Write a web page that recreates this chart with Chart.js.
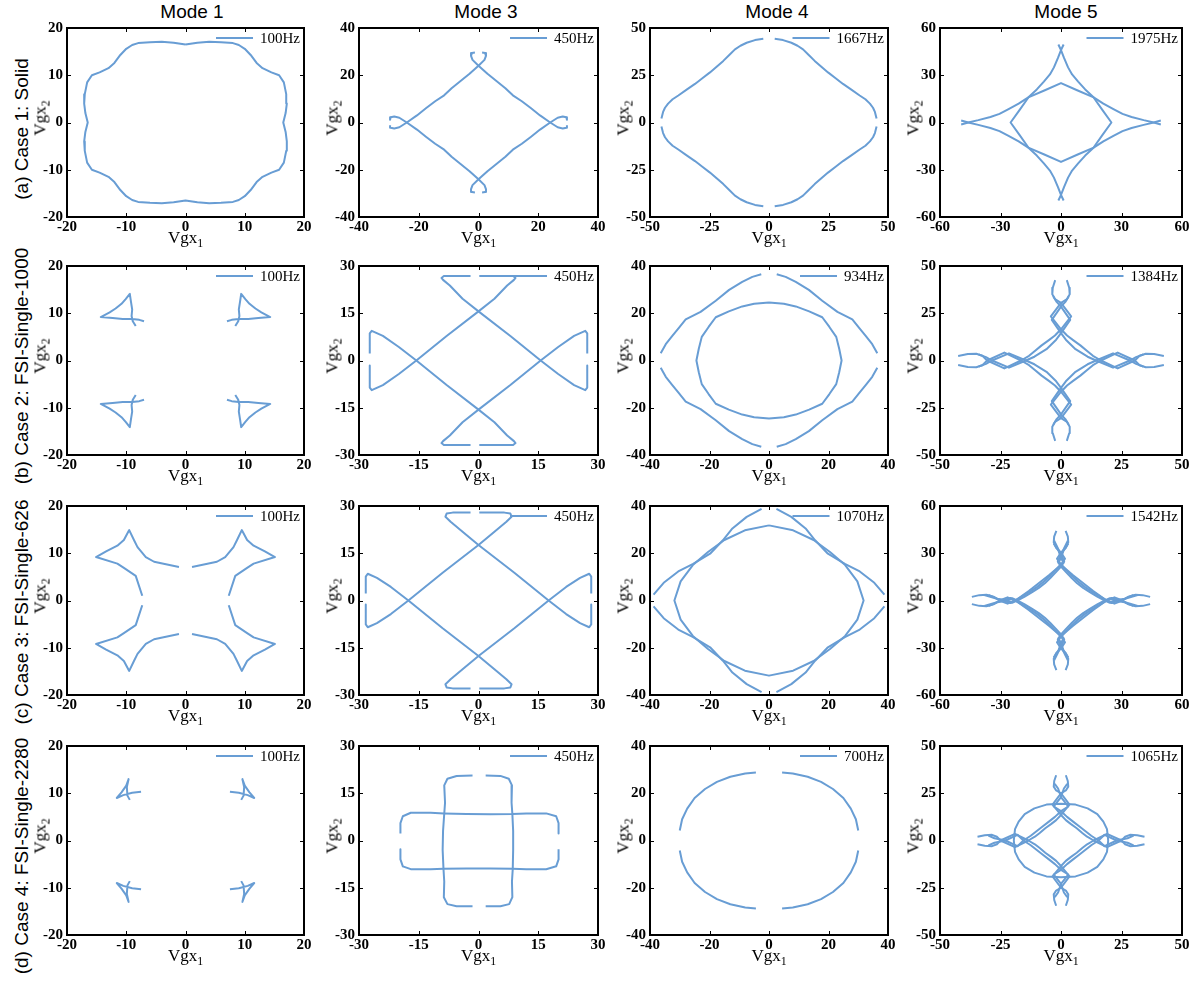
<!DOCTYPE html>
<html>
<head>
<title>Group velocity curves</title>
<script src="https://cdn.jsdelivr.net/npm/chart.js"></script>
<style>
  body { margin: 0; background: #fff; }
  #page { position: relative; width: 1199px; height: 986px; overflow: hidden; }
  #page canvas { position: absolute; }
  .mode { position: absolute; font: 19px "Liberation Sans", Arial, sans-serif; line-height: 19px; transform: translateX(-50%); white-space: nowrap; }
  .case { position: absolute; font: 19px "Liberation Sans", Arial, sans-serif; line-height: 19px; transform: translate(-50%, -50%) rotate(-90deg); white-space: nowrap; }
  .xt, .yt { position: absolute; font: 17px "Liberation Serif", serif; line-height: 17px; white-space: nowrap; }
  .xt { transform: translateX(-50%); }
  .yt { transform: translate(-50%, -50%) rotate(-90deg); }
  .xt sub, .yt sub { font-size: 70%; vertical-align: -0.3em; line-height: 0; }
</style>
</head>
<body>
<div id="page"></div>
<script>
const modeTitles = ["Mode 1", "Mode 3", "Mode 4", "Mode 5"];
const caseLabels = ["(a) Case 1: Solid", "(b) Case 2: FSI-Single-1000", "(c) Case 3: FSI-Single-626", "(d) Case 4: FSI-Single-2280"];
const freqLabels = [
  ["100Hz", "450Hz", "1667Hz", "1975Hz"],
  ["100Hz", "450Hz", "934Hz", "1384Hz"],
  ["100Hz", "450Hz", "1070Hz", "1542Hz"],
  ["100Hz", "450Hz", "700Hz", "1065Hz"]
];
const axisLimits = [[20, 40, 50, 60], [20, 30, 40, 50], [20, 30, 40, 60], [20, 30, 40, 50]];
const tickSteps = [[10, 20, 25, 30], [10, 15, 20, 25], [10, 15, 20, 30], [10, 15, 20, 25]];

// each curve = list of line pieces, each piece = list of [Vgx1, Vgx2]
const solidMode1 = [
  [[0,16.5],[-2,16.9],[-4,17.1],[-6,17],[-8,16.8],[-9,16.4],[-10,15.6],[-11,14.3],[-12,12.6],[-13,11.5],[-14.5,10.6],[-15.8,10],[-16.6,8.5],[-17,6],[-17.1,4],[-16.9,2],[-16.5,0],[-16.9,-2],[-17.1,-4],[-17,-6],[-16.6,-8.5],[-15.8,-10],[-14.5,-10.6],[-13,-11.5],[-12,-12.6],[-11,-14.3],[-10,-15.6],[-9,-16.4],[-8,-16.8],[-6,-17],[-4,-17.1],[-2,-16.9],[0,-16.5],[2,-16.9],[4,-17.1],[6,-17],[8,-16.8],[9,-16.4],[10,-15.6],[11,-14.3],[12,-12.6],[13,-11.5],[14.5,-10.6],[15.8,-10],[16.6,-8.5],[17,-6],[17.1,-4],[16.9,-2],[16.5,0],[16.9,2],[17.1,4],[17,6],[16.6,8.5],[15.8,10],[14.5,10.6],[13,11.5],[12,12.6],[11,14.3],[10,15.6],[9,16.4],[8,16.8],[6,17],[4,17.1],[2,16.9],[0,16.5]]
];
const solidMode3 = [
  [[-1.2,29.6],[-2.2,29.4],[-2.5,28.2],[-2,26.5],[0,24],[3,20.6],[6,17.6],[9,14.5],[11.5,11.5],[14.5,9],[17.6,6],[20.6,3],[24,0],[26.5,-2],[28.2,-2.5],[29.4,-2.2],[29.6,-1.2]],
  [[1.2,29.6],[2.2,29.4],[2.5,28.2],[2,26.5],[0,24],[-3,20.6],[-6,17.6],[-9,14.5],[-11.5,11.5],[-14.5,9],[-17.6,6],[-20.6,3],[-24,0],[-26.5,-2],[-28.2,-2.5],[-29.4,-2.2],[-29.6,-1.2]],
  [[-1.2,-29.6],[-2.2,-29.4],[-2.5,-28.2],[-2,-26.5],[0,-24],[3,-20.6],[6,-17.6],[9,-14.5],[11.5,-11.5],[14.5,-9],[17.6,-6],[20.6,-3],[24,0],[26.5,2],[28.2,2.5],[29.4,2.2],[29.6,1.2]],
  [[1.2,-29.6],[2.2,-29.4],[2.5,-28.2],[2,-26.5],[0,-24],[-3,-20.6],[-6,-17.6],[-9,-14.5],[-11.5,-11.5],[-14.5,-9],[-17.6,-6],[-20.6,-3],[-24,0],[-26.5,2],[-28.2,2.5],[-29.4,2.2],[-29.6,1.2]]
];
const solidMode4 = [
  [[-2.4,44.3],[-5.9,43.6],[-9.4,42.2],[-12,40.6],[-14.3,38.7],[-16.8,35.6],[-19.2,32.6],[-22,29.5],[-24.8,26.5],[-28,23.4],[-31.1,20.4],[-34.6,17.4],[-38.1,14.3],[-40.5,12.3],[-42.4,10],[-43.7,7.8],[-44.5,5.6],[-45.2,2.1]],
  [[2.4,44.3],[5.9,43.6],[9.4,42.2],[12,40.6],[14.3,38.7],[16.8,35.6],[19.2,32.6],[22,29.5],[24.8,26.5],[28,23.4],[31.1,20.4],[34.6,17.4],[38.1,14.3],[40.5,12.3],[42.4,10],[43.7,7.8],[44.5,5.6],[45.2,2.1]],
  [[-2.4,-44.3],[-5.9,-43.6],[-9.4,-42.2],[-12,-40.6],[-14.3,-38.7],[-16.8,-35.6],[-19.2,-32.6],[-22,-29.5],[-24.8,-26.5],[-28,-23.4],[-31.1,-20.4],[-34.6,-17.4],[-38.1,-14.3],[-40.5,-12.3],[-42.4,-10],[-43.7,-7.8],[-44.5,-5.6],[-45.2,-2.1]],
  [[2.4,-44.3],[5.9,-43.6],[9.4,-42.2],[12,-40.6],[14.3,-38.7],[16.8,-35.6],[19.2,-32.6],[22,-29.5],[24.8,-26.5],[28,-23.4],[31.1,-20.4],[34.6,-17.4],[38.1,-14.3],[40.5,-12.3],[42.4,-10],[43.7,-7.8],[44.5,-5.6],[45.2,-2.1]]
];
const solidMode5 = [
  [[1.3,49.5],[0,46],[-1.5,41],[-3.5,35],[-5.5,30.5],[-8.5,26],[-12,21],[-16,16.2],[-20.5,8],[-25,0],[-20.5,-8],[-16,-16.2],[-12,-21],[-8.5,-26],[-5.5,-30.5],[-3.5,-35],[-1.5,-41],[0,-46],[1.3,-49.5]],
  [[-1.3,49.5],[0,46],[1.5,41],[3.5,35],[5.5,30.5],[8.5,26],[12,21],[16,16.2],[20.5,8],[25,0],[20.5,-8],[16,-16.2],[12,-21],[8.5,-26],[5.5,-30.5],[3.5,-35],[1.5,-41],[0,-46],[-1.3,-49.5]],
  [[-49.5,-1.3],[-46,0],[-41,1.5],[-35,3.5],[-30.5,5.5],[-26,8.5],[-21,12],[-16.2,16],[-8,20.5],[0,25],[8,20.5],[16.2,16],[21,12],[26,8.5],[30.5,5.5],[35,3.5],[41,1.5],[46,0],[49.5,-1.3]],
  [[-49.5,1.3],[-46,0],[-41,-1.5],[-35,-3.5],[-30.5,-5.5],[-26,-8.5],[-21,-12],[-16.2,-16],[-8,-20.5],[0,-25],[8,-20.5],[16.2,-16],[21,-12],[26,-8.5],[30.5,-5.5],[35,-3.5],[41,-1.5],[46,0],[49.5,1.3]]
];

const fsi1000Mode1 = [
  [[-8.4,7.3],[-8.9,8.3],[-9.1,9.4],[-9,10.8],[-9.2,12.4],[-9.4,14.1],[-10.1,13],[-10.8,12],[-11.8,11],[-12.8,10.2],[-14.3,9.2],[-12.3,9],[-10.6,8.8],[-9,8.8],[-7.8,8.6],[-7,8.3]],
  [[8.4,7.3],[8.9,8.3],[9.1,9.4],[9,10.8],[9.2,12.4],[9.4,14.1],[10.1,13],[10.8,12],[11.8,11],[12.8,10.2],[14.3,9.2],[12.3,9],[10.6,8.8],[9,8.8],[7.8,8.6],[7,8.3]],
  [[-8.4,-7.3],[-8.9,-8.3],[-9.1,-9.4],[-9,-10.8],[-9.2,-12.4],[-9.4,-14.1],[-10.1,-13],[-10.8,-12],[-11.8,-11],[-12.8,-10.2],[-14.3,-9.2],[-12.3,-9],[-10.6,-8.8],[-9,-8.8],[-7.8,-8.6],[-7,-8.3]],
  [[8.4,-7.3],[8.9,-8.3],[9.1,-9.4],[9,-10.8],[9.2,-12.4],[9.4,-14.1],[10.1,-13],[10.8,-12],[11.8,-11],[12.8,-10.2],[14.3,-9.2],[12.3,-9],[10.6,-8.8],[9,-8.8],[7.8,-8.6],[7,-8.3]]
];
const fsi1000Mode3 = [
  [[-27.3,-1.6],[-27.3,-8.6],[-26.8,-9.4],[-24,-7.8],[-20,-4.3],[-15.6,0],[-8,7.8],[0,15.6],[4,19.6],[7.2,23.8],[8.9,25.6],[9.3,26.2],[8.7,26.8],[0.2,26.8]],
  [[-27.3,2.2],[-27.3,8.6],[-26.8,9.4],[-24,7.8],[-20,4.3],[-15.6,0],[-8,-7.8],[0,-15.6],[4,-19.6],[7.2,-23.8],[8.9,-25.6],[9.3,-26.2],[8.7,-26.8],[0.2,-26.8]],
  [[27.3,-1.6],[27.3,-8.6],[26.8,-9.4],[24,-7.8],[20,-4.3],[15.6,0],[8,7.8],[0,15.6],[-4,19.6],[-7.2,23.8],[-8.9,25.6],[-9.3,26.2],[-8.7,26.8],[-2,26.8]],
  [[27.3,2.2],[27.3,8.6],[26.8,9.4],[24,7.8],[20,4.3],[15.6,0],[8,-7.8],[0,-15.6],[-4,-19.6],[-7.2,-23.8],[-8.9,-25.6],[-9.3,-26.2],[-8.7,-26.8],[-2,-26.8]]
];
const fsi1000Mode4 = [
  [[-2.6,36.5],[-5.6,35.4],[-9,33.3],[-13.4,29.9],[-17.9,25.3],[-23,20.6],[-28,17.4],[-30.5,13.5],[-32.5,10.4],[-34.7,6.9],[-36.4,3.1]],
  [[2.6,36.5],[5.6,35.4],[9,33.3],[13.4,29.9],[17.9,25.3],[23,20.6],[28,17.4],[30.5,13.5],[32.5,10.4],[34.7,6.9],[36.4,3.1]],
  [[-2.6,-36.5],[-5.6,-35.4],[-9,-33.3],[-13.4,-29.9],[-17.9,-25.3],[-23,-20.6],[-28,-17.4],[-30.5,-13.5],[-32.5,-10.4],[-34.7,-6.9],[-36.4,-3.1]],
  [[2.6,-36.5],[5.6,-35.4],[9,-33.3],[13.4,-29.9],[17.9,-25.3],[23,-20.6],[28,-17.4],[30.5,-13.5],[32.5,-10.4],[34.7,-6.9],[36.4,-3.1]],
  [[0,24.6],[-5,24],[-9,22.9],[-13.5,20.8],[-17.9,18.3],[-20.3,14.2],[-22.6,10],[-23.6,5],[-24.4,0],[-23.6,-5],[-22.6,-10],[-20.3,-14.2],[-17.9,-18.3],[-13.5,-20.8],[-9,-22.9],[-5,-24],[0,-24.6],[5,-24],[9,-22.9],[13.5,-20.8],[17.9,-18.3],[20.3,-14.2],[22.6,-10],[23.6,-5],[24.4,0],[23.6,5],[22.6,10],[20.3,14.2],[17.9,18.3],[13.5,20.8],[9,22.9],[5,24],[0,24.6]]
];
const fsi1000Mode5 = [
  [[-2.4,42.5],[-3.4,38.5],[-3.6,35],[-2.5,32.5],[0,30.5],[4.2,23.4],[0,16.5],[-2.5,13.2],[-5,10.8],[-8,8],[-10.8,5],[-13.2,2.5],[-16.5,0],[-23.4,-4.2],[-30.5,0],[-32.5,2.5],[-35,3.6],[-38.5,3.4],[-42.5,2.4]],
  [[2.4,42.5],[3.4,38.5],[3.6,35],[2.5,32.5],[0,30.5],[-4.2,23.4],[0,16.5],[2.5,13.2],[5,10.8],[8,8],[10.8,5],[13.2,2.5],[16.5,0],[23.4,-4.2],[30.5,0],[32.5,2.5],[35,3.6],[38.5,3.4],[42.5,2.4]],
  [[-2.4,-42.5],[-3.4,-38.5],[-3.6,-35],[-2.5,-32.5],[0,-30.5],[4.2,-23.4],[0,-16.5],[-2.5,-13.2],[-5,-10.8],[-8,-8],[-10.8,-5],[-13.2,-2.5],[-16.5,0],[-23.4,4.2],[-30.5,0],[-32.5,-2.5],[-35,-3.6],[-38.5,-3.4],[-42.5,-2.4]],
  [[2.4,-42.5],[3.4,-38.5],[3.6,-35],[2.5,-32.5],[0,-30.5],[-4.2,-23.4],[0,-16.5],[2.5,-13.2],[5,-10.8],[8,-8],[10.8,-5],[13.2,-2.5],[16.5,0],[23.4,4.2],[30.5,0],[32.5,-2.5],[35,-3.6],[38.5,-3.4],[42.5,-2.4]],
  [[-3.2,34],[-1.8,31],[0,28.5],[3.8,21.5],[0,14.5],[-2,11],[-4,8.5],[-6,6],[-8.5,4],[-11,2],[-14.5,0],[-21.5,-3.8],[-28.5,0],[-31,1.8],[-34,3.2]],
  [[3.2,34],[1.8,31],[0,28.5],[-3.8,21.5],[0,14.5],[2,11],[4,8.5],[6,6],[8.5,4],[11,2],[14.5,0],[21.5,-3.8],[28.5,0],[31,1.8],[34,3.2]],
  [[-3.2,-34],[-1.8,-31],[0,-28.5],[3.8,-21.5],[0,-14.5],[-2,-11],[-4,-8.5],[-6,-6],[-8.5,-4],[-11,-2],[-14.5,0],[-21.5,3.8],[-28.5,0],[-31,-1.8],[-34,-3.2]],
  [[3.2,-34],[1.8,-31],[0,-28.5],[-3.8,-21.5],[0,-14.5],[2,-11],[4,-8.5],[6,-6],[8.5,-4],[11,-2],[14.5,0],[21.5,3.8],[28.5,0],[31,-1.8],[34,-3.2]]
];

const fsi626Mode1 = [
  [[-1.1,7.1],[-5.3,8.2],[-6.7,9.2],[-8.1,11.3],[-8.7,12.8],[-9.5,14.9],[-10.4,12.8],[-11.5,11.6],[-13.4,10.4],[-15.1,9.2],[-11.5,7.8],[-10.4,6.9],[-8.4,5.2],[-7.3,1]],
  [[1.1,7.1],[5.3,8.2],[6.7,9.2],[8.1,11.3],[8.7,12.8],[9.5,14.9],[10.4,12.8],[11.5,11.6],[13.4,10.4],[15.1,9.2],[11.5,7.8],[10.4,6.9],[8.4,5.2],[7.3,1]],
  [[-1.1,-7.1],[-5.3,-8.2],[-6.7,-9.2],[-8.1,-11.3],[-8.7,-12.8],[-9.5,-14.9],[-10.4,-12.8],[-11.5,-11.6],[-13.4,-10.4],[-15.1,-9.2],[-11.5,-7.8],[-10.4,-6.9],[-8.4,-5.2],[-7.3,-1]],
  [[1.1,-7.1],[5.3,-8.2],[6.7,-9.2],[8.1,-11.3],[8.7,-12.8],[9.5,-14.9],[10.4,-12.8],[11.5,-11.6],[13.4,-10.4],[15.1,-9.2],[11.5,-7.8],[10.4,-6.9],[8.4,-5.2],[7.3,-1]]
];
const fsi626Mode3 = [
  [[-28.3,-1.3],[-28.3,-7.6],[-27.8,-8.5],[-25.5,-7.2],[-22,-4.3],[-17.6,0],[-9,8.8],[0,17.6],[4,21.8],[7,25],[8.3,26.6],[8,27.6],[6.5,27.9],[0.2,27.9]],
  [[-28.3,2.2],[-28.3,7.6],[-27.8,8.5],[-25.5,7.2],[-22,4.3],[-17.6,0],[-9,-8.8],[0,-17.6],[4,-21.8],[7,-25],[8.3,-26.6],[8,-27.6],[6.5,-27.9],[0.2,-27.9]],
  [[28.3,-1.3],[28.3,-7.6],[27.8,-8.5],[25.5,-7.2],[22,-4.3],[17.6,0],[9,8.8],[0,17.6],[-4,21.8],[-7,25],[-8.3,26.6],[-8,27.6],[-6.5,27.9],[-2,27.9]],
  [[28.3,2.2],[28.3,7.6],[27.8,8.5],[25.5,7.2],[22,4.3],[17.6,0],[9,-8.8],[0,-17.6],[-4,-21.8],[-7,-25],[-8.3,-26.6],[-8,-27.6],[-6.5,-27.9],[-2,-27.9]]
];
const fsi626Mode4 = [
  [[-2.5,38.8],[-7.5,35.4],[-12.3,30.5],[-15.5,25.5],[-19.8,19.8],[-25.5,15.5],[-30.5,12.3],[-35.4,7.5],[-38.8,2.5]],
  [[2.5,38.8],[7.5,35.4],[12.3,30.5],[15.5,25.5],[19.8,19.8],[25.5,15.5],[30.5,12.3],[35.4,7.5],[38.8,2.5]],
  [[-2.5,-38.8],[-7.5,-35.4],[-12.3,-30.5],[-15.5,-25.5],[-19.8,-19.8],[-25.5,-15.5],[-30.5,-12.3],[-35.4,-7.5],[-38.8,-2.5]],
  [[2.5,-38.8],[7.5,-35.4],[12.3,-30.5],[15.5,-25.5],[19.8,-19.8],[25.5,-15.5],[30.5,-12.3],[35.4,-7.5],[38.8,-2.5]],
  [[0,31.8],[-8.1,29.7],[-15,25.6],[-20.5,20.5],[-25.6,15],[-29.7,8.1],[-31.8,0],[-29.7,-8.1],[-25.6,-15],[-20.5,-20.5],[-15,-25.6],[-8.1,-29.7],[0,-31.8],[8.1,-29.7],[15,-25.6],[20.5,-20.5],[25.6,-15],[29.7,-8.1],[31.8,0],[29.7,8.1],[25.6,15],[20.5,20.5],[15,25.6],[8.1,29.7],[0,31.8]]
];
const fsi626Mode5 = [
  [[-2.3,44.2],[-3.4,40.5],[-3.6,37],[-2.4,33.5],[0,30.5],[2,26.5],[0,23],[-2.5,19.5],[-5.5,15.5],[-8.5,12],[-12,8.5],[-15.5,5.5],[-19.5,2.5],[-23,0],[-26.5,-2],[-30.5,0],[-33.5,2.4],[-37,3.6],[-40.5,3.4],[-44.2,2.3]],
  [[2.3,44.2],[3.4,40.5],[3.6,37],[2.4,33.5],[0,30.5],[-2,26.5],[0,23],[2.5,19.5],[5.5,15.5],[8.5,12],[12,8.5],[15.5,5.5],[19.5,2.5],[23,0],[26.5,-2],[30.5,0],[33.5,2.4],[37,3.6],[40.5,3.4],[44.2,2.3]],
  [[-2.3,-44.2],[-3.4,-40.5],[-3.6,-37],[-2.4,-33.5],[0,-30.5],[2,-26.5],[0,-23],[-2.5,-19.5],[-5.5,-15.5],[-8.5,-12],[-12,-8.5],[-15.5,-5.5],[-19.5,-2.5],[-23,0],[-26.5,2],[-30.5,0],[-33.5,-2.4],[-37,-3.6],[-40.5,-3.4],[-44.2,-2.3]],
  [[2.3,-44.2],[3.4,-40.5],[3.6,-37],[2.4,-33.5],[0,-30.5],[-2,-26.5],[0,-23],[2.5,-19.5],[5.5,-15.5],[8.5,-12],[12,-8.5],[15.5,-5.5],[19.5,-2.5],[23,0],[26.5,2],[30.5,0],[33.5,-2.4],[37,-3.6],[40.5,-3.4],[44.2,-2.3]],
  [[-3.4,38],[-1.5,33],[0,29],[1.6,25],[0,21.5],[-2.5,18],[-5.3,14.3],[-8,11],[-11,8],[-14.3,5.3],[-18,2.5],[-21.5,0],[-25,-1.6],[-29,0],[-33,1.5],[-38,3.4]],
  [[3.4,38],[1.5,33],[0,29],[-1.6,25],[0,21.5],[2.5,18],[5.3,14.3],[8,11],[11,8],[14.3,5.3],[18,2.5],[21.5,0],[25,-1.6],[29,0],[33,1.5],[38,3.4]],
  [[-3.4,-38],[-1.5,-33],[0,-29],[1.6,-25],[0,-21.5],[-2.5,-18],[-5.3,-14.3],[-8,-11],[-11,-8],[-14.3,-5.3],[-18,-2.5],[-21.5,0],[-25,1.6],[-29,0],[-33,-1.5],[-38,-3.4]],
  [[3.4,-38],[1.5,-33],[0,-29],[-1.6,-25],[0,-21.5],[2.5,-18],[5.3,-14.3],[8,-11],[11,-8],[14.3,-5.3],[18,-2.5],[21.5,0],[25,1.6],[29,0],[33,-1.5],[38,-3.4]],
  [[-3.6,36],[-1.2,31.5],[0,27],[1.3,24],[0,22.5],[-2.8,19.5],[-6,16],[-9.5,12.5],[-12.5,9.5],[-16,6],[-19.5,2.8],[-22.5,0],[-24,-1.3],[-27,0],[-31.5,1.2],[-36,3.6]],
  [[3.6,36],[1.2,31.5],[0,27],[-1.3,24],[0,22.5],[2.8,19.5],[6,16],[9.5,12.5],[12.5,9.5],[16,6],[19.5,2.8],[22.5,0],[24,-1.3],[27,0],[31.5,1.2],[36,3.6]],
  [[-3.6,-36],[-1.2,-31.5],[0,-27],[1.3,-24],[0,-22.5],[-2.8,-19.5],[-6,-16],[-9.5,-12.5],[-12.5,-9.5],[-16,-6],[-19.5,-2.8],[-22.5,0],[-24,1.3],[-27,0],[-31.5,-1.2],[-36,-3.6]],
  [[3.6,-36],[1.2,-31.5],[0,-27],[-1.3,-24],[0,-22.5],[2.8,-19.5],[6,-16],[9.5,-12.5],[12.5,-9.5],[16,-6],[19.5,-2.8],[22.5,0],[24,1.3],[27,0],[31.5,-1.2],[36,-3.6]]
];

const fsi2280Mode1 = [
  [[-7.5,10.3],[-9,10.1],[-10.5,9.6],[-11.6,9],[-10.8,10.2],[-10,11.6],[-9.6,13],[-9.9,11.3],[-9.8,9.5],[-9.4,8.6]],
  [[7.5,10.3],[9,10.1],[10.5,9.6],[11.6,9],[10.8,10.2],[10,11.6],[9.6,13],[9.9,11.3],[9.8,9.5],[9.4,8.6]],
  [[-7.5,-10.3],[-9,-10.1],[-10.5,-9.6],[-11.6,-9],[-10.8,-10.2],[-10,-11.6],[-9.6,-13],[-9.9,-11.3],[-9.8,-9.5],[-9.4,-8.6]],
  [[7.5,-10.3],[9,-10.1],[10.5,-9.6],[11.6,-9],[10.8,-10.2],[10,-11.6],[9.6,-13],[9.9,-11.3],[9.8,-9.5],[9.4,-8.6]]
];
const fsi2280Mode3 = [
  [[-1.5,20.6],[-5.5,20.5],[-7.8,19.6],[-8.6,17.5],[-8.4,12],[-8.6,8.5],[-8.9,3],[-9,-3],[-8.8,-8.8],[-8.6,-13],[-8.7,-18],[-7.8,-20.2],[-5.5,-20.9],[-1.5,-20.9]],
  [[1.8,20.6],[5.5,20.5],[7.6,19.6],[8.4,17.5],[8.3,12],[8.5,8.4],[8.7,3],[8.7,-3],[8.6,-9],[8.4,-13],[8.5,-18],[7.7,-20.2],[5.5,-20.9],[1.8,-20.9]],
  [[-19.6,2.2],[-19.6,5.5],[-19,7.7],[-17,8.8],[-12,8.8],[-8.7,8.6],[-3,8.4],[3,8.3],[8.5,8.4],[12,8.6],[17,8.6],[19.5,7.7],[20.1,5.5],[20.1,2.2]],
  [[-19.6,-2.8],[-19.6,-6],[-19,-8.2],[-17,-9.1],[-12,-9.1],[-8.8,-9],[-3,-8.9],[3,-8.9],[8.6,-9],[12,-9.1],[17,-9.1],[19.5,-8.2],[20.1,-6],[20.1,-2.8]]
];
const fsi2280Mode4 = [
  [[-4.4,28.8],[-8,28.4],[-13,27],[-17.5,24.8],[-21.5,21.8],[-25,18],[-27.5,13.5],[-29.2,9],[-30,4.2]],
  [[4.4,28.8],[8,28.4],[13,27],[17.5,24.8],[21.5,21.8],[25,18],[27.5,13.5],[29.2,9],[30,4.2]],
  [[-4.4,-28.8],[-8,-28.4],[-13,-27],[-17.5,-24.8],[-21.5,-21.8],[-25,-18],[-27.5,-13.5],[-29.2,-9],[-30,-4.2]],
  [[4.4,-28.8],[8,-28.4],[13,-27],[17.5,-24.8],[21.5,-21.8],[25,-18],[27.5,-13.5],[29.2,-9],[30,-4.2]]
];
const fsi2280Mode5 = [
  [[-2,34.5],[-2.8,31.5],[-3,28.5],[-2,26.5],[0,25],[3.5,19],[0,13.5],[-2,10.8],[-4,8.8],[-6.5,6.5],[-8.8,4],[-10.8,2],[-13.5,0],[-19,-3.5],[-25,0],[-26.5,2],[-28.5,3],[-31.5,2.8],[-34.5,2]],
  [[2,34.5],[2.8,31.5],[3,28.5],[2,26.5],[0,25],[-3.5,19],[0,13.5],[2,10.8],[4,8.8],[6.5,6.5],[8.8,4],[10.8,2],[13.5,0],[19,-3.5],[25,0],[26.5,2],[28.5,3],[31.5,2.8],[34.5,2]],
  [[-2,-34.5],[-2.8,-31.5],[-3,-28.5],[-2,-26.5],[0,-25],[3.5,-19],[0,-13.5],[-2,-10.8],[-4,-8.8],[-6.5,-6.5],[-8.8,-4],[-10.8,-2],[-13.5,0],[-19,3.5],[-25,0],[-26.5,-2],[-28.5,-3],[-31.5,-2.8],[-34.5,-2]],
  [[2,-34.5],[2.8,-31.5],[3,-28.5],[2,-26.5],[0,-25],[-3.5,-19],[0,-13.5],[2,-10.8],[4,-8.8],[6.5,-6.5],[8.8,-4],[10.8,-2],[13.5,0],[19,3.5],[25,0],[26.5,-2],[28.5,-3],[31.5,-2.8],[34.5,-2]],
  [[-2.6,30],[-1.2,27.5],[0,23],[3,18],[0,15.5],[-2.5,12.5],[-5,10],[-7.5,7.5],[-10,5],[-12.5,2.5],[-15.5,0],[-18,-3],[-23,0],[-27.5,1.2],[-30,2.6]],
  [[2.6,30],[1.2,27.5],[0,23],[-3,18],[0,15.5],[2.5,12.5],[5,10],[7.5,7.5],[10,5],[12.5,2.5],[15.5,0],[18,-3],[23,0],[27.5,1.2],[30,2.6]],
  [[-2.6,-30],[-1.2,-27.5],[0,-23],[3,-18],[0,-15.5],[-2.5,-12.5],[-5,-10],[-7.5,-7.5],[-10,-5],[-12.5,-2.5],[-15.5,0],[-18,3],[-23,0],[-27.5,-1.2],[-30,-2.6]],
  [[2.6,-30],[1.2,-27.5],[0,-23],[-3,-18],[0,-15.5],[2.5,-12.5],[5,-10],[7.5,-7.5],[10,-5],[12.5,-2.5],[15.5,0],[18,3],[23,0],[27.5,-1.2],[30,-2.6]],
  [[0,19.5],[-6,19],[-11,17],[-15,14],[-17.5,10],[-19,6],[-19.5,0],[-19,-6],[-17.5,-10],[-15,-14],[-11,-17],[-6,-19],[0,-19.5],[6,-19],[11,-17],[15,-14],[17.5,-10],[19,-6],[19.5,0],[19,6],[17.5,10],[15,14],[11,17],[6,19],[0,19.5]]
];

const curves = [
  [solidMode1, solidMode3, solidMode4, solidMode5],
  [fsi1000Mode1, fsi1000Mode3, fsi1000Mode4, fsi1000Mode5],
  [fsi626Mode1, fsi626Mode3, fsi626Mode4, fsi626Mode5],
  [fsi2280Mode1, fsi2280Mode3, fsi2280Mode4, fsi2280Mode5]
];

// layout of the 4x4 grid (plot-area boxes in page pixels)
const plotLeft = [67, 359, 650, 940];
const plotWidth = [237, 239, 238, 242];
const plotTop = [25, 263, 503, 743];
const plotH = 192;
const modeCenter = [192, 486, 777, 1066];
const caseCenter = [129, 366, 612, 856];
const lineColor = "rgb(104,157,212)";
const padL = 50, padT = 10, padR = 14, padB = 26;

const frameLegend = {
  id: "frameLegend",
  afterDraw(chart, args, opts) {
    const { ctx, chartArea: a, scales } = chart;
    ctx.save();
    ctx.strokeStyle = "#000";
    ctx.lineWidth = 1;
    ctx.beginPath();
    scales.x.ticks.forEach((t) => {
      const px = Math.round(scales.x.getPixelForValue(t.value)) + 0.5;
      ctx.moveTo(px, a.bottom); ctx.lineTo(px, a.bottom - 4);
      ctx.moveTo(px, a.top); ctx.lineTo(px, a.top + 4);
    });
    scales.y.ticks.forEach((t) => {
      const py = Math.round(scales.y.getPixelForValue(t.value)) + 0.5;
      ctx.moveTo(a.left, py); ctx.lineTo(a.left + 4, py);
      ctx.moveTo(a.right, py); ctx.lineTo(a.right - 4, py);
    });
    ctx.stroke();
    ctx.lineWidth = 2;
    ctx.strokeRect(a.left, a.top, a.right - a.left, a.bottom - a.top);

    ctx.font = '15px "Liberation Serif", serif';
    const w = ctx.measureText(opts.label).width;
    const tx = a.right - 4 - w;
    const ly = a.top + 10;
    ctx.strokeStyle = lineColor;
    ctx.lineWidth = 2;
    ctx.beginPath();
    ctx.moveTo(tx - 44, ly); ctx.lineTo(tx - 7, ly);
    ctx.stroke();
    ctx.fillStyle = "#000";
    ctx.textBaseline = "middle";
    ctx.fillText(opts.label, tx, ly + 1);
    ctx.restore();
  }
};

const page = document.getElementById("page");
const tickFont = { family: "Liberation Serif", size: 15, weight: "bold" };

function addDiv(cls, html, left, top) {
  const d = document.createElement("div");
  d.className = cls;
  d.innerHTML = html;
  d.style.left = left + "px";
  d.style.top = top + "px";
  page.appendChild(d);
}

modeTitles.forEach((m, c) => addDiv("mode", m, modeCenter[c], 2));
caseLabels.forEach((t, r) => addDiv("case", t, 21, caseCenter[r]));

for (let r = 0; r < 4; r++) {
  for (let c = 0; c < 4; c++) {
    const W = plotWidth[c];
    const cv = document.createElement("canvas");
    cv.width = W + padL + padR;
    cv.height = plotH + padT + padB;
    cv.style.left = plotLeft[c] - padL + "px";
    cv.style.top = plotTop[r] - padT + "px";
    page.appendChild(cv);

    const lim = axisLimits[r][c];
    const step = tickSteps[r][c];
    new Chart(cv, {
      type: "scatter",
      data: {
        datasets: curves[r][c].map((seg) => ({
          data: seg.map((p) => ({ x: p[0], y: p[1] })),
          showLine: true,
          borderColor: lineColor,
          borderWidth: 2,
          borderJoinStyle: "round",
          pointRadius: 0,
          tension: 0
        }))
      },
      options: {
        responsive: false,
        animation: false,
        devicePixelRatio: 1,
        layout: { padding: { top: padT, right: padR, left: 0, bottom: 0 } },
        plugins: {
          legend: { display: false },
          tooltip: { enabled: false },
          frameLegend: { label: freqLabels[r][c] }
        },
        scales: {
          x: {
            type: "linear", min: -lim, max: lim,
            grid: { display: false, drawTicks: false },
            border: { display: false },
            ticks: { stepSize: step, font: tickFont, color: "#000", padding: 1, maxRotation: 0, autoSkip: false },
            afterFit(s) { s.height = padB; }
          },
          y: {
            type: "linear", min: -lim, max: lim,
            grid: { display: false, drawTicks: false },
            border: { display: false },
            ticks: { stepSize: step, font: tickFont, color: "#000", padding: 4, autoSkip: false },
            afterFit(s) { s.width = padL; }
          }
        }
      },
      plugins: [frameLegend]
    });

    addDiv("xt", "Vgx<sub>1</sub>", plotLeft[c] + W / 2, plotTop[r] + plotH + 12);
    addDiv("yt", "Vgx<sub>2</sub>", plotLeft[c] - 27, plotTop[r] + plotH / 2 - 3);
  }
}
</script>
</body>
</html>
